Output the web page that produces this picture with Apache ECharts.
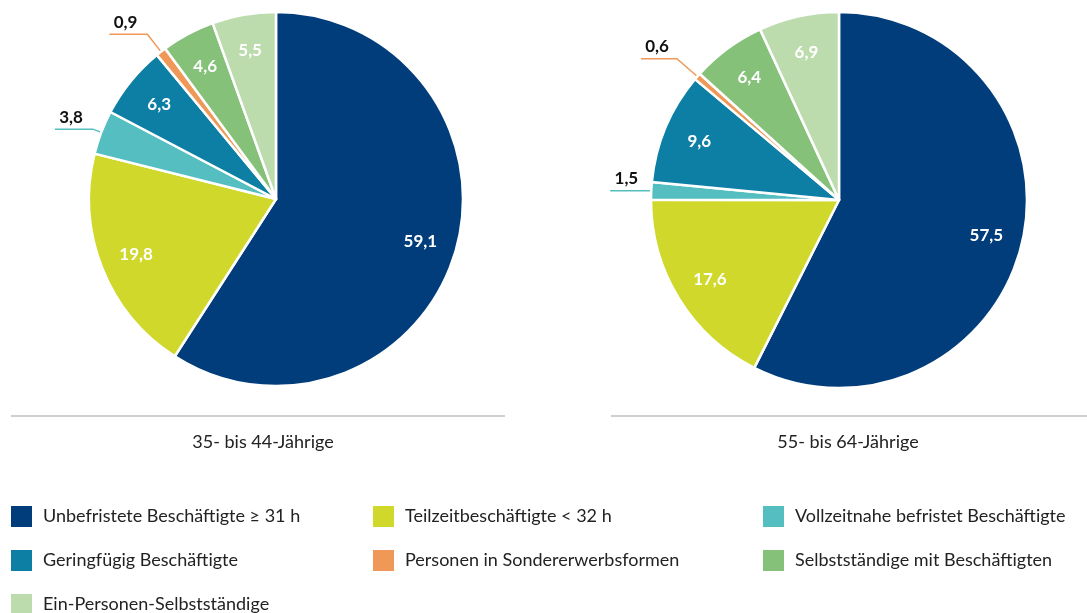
<!DOCTYPE html>
<html>
<head>
<meta charset="utf-8">
<script src="https://cdn.jsdelivr.net/npm/echarts@6/dist/echarts.min.js"></script>
<style>
  html, body { margin: 0; padding: 0; background: #fff; }
  #main { width: 1087px; height: 613px; }
</style>
</head>
<body>
<div id="main"></div>
<script>
// Kategorien und Werte (Anteile in %)
var categories = [
  'Unbefristete Beschäftigte ≥ 31 h',
  'Teilzeitbeschäftigte < 32 h',
  'Vollzeitnahe befristet Beschäftigte',
  'Geringfügig Beschäftigte',
  'Personen in Sondererwerbsformen',
  'Selbstständige mit Beschäftigten',
  'Ein-Personen-Selbstständige'
];
var groups = ['35- bis 44-Jährige', '55- bis 64-Jährige'];
var values35 = [59.1, 19.8, 3.8, 6.3, 0.9, 4.6, 5.5];
var values55 = [57.5, 17.6, 1.5, 9.6, 0.6, 6.4, 6.9];
var colors = ['#023d7b', '#cfd82b', '#55bec0', '#0d7fa5', '#ef9858', '#86c17a', '#bddcae'];

var font = 'Lato';
function fmt(v) { return v.toFixed(1).replace('.', ','); }

// Labelführung für kleine Segmente (außen): [length, length2]
var outside35 = { 2: [9, 38], 4: [22, 38] };
var outside55 = { 2: [3, 38], 4: [27, 36] };

function pieData(vals, outside) {
  return vals.map(function (v, i) {
    var d = { name: categories[i], value: v, itemStyle: { color: colors[i] } };
    if (outside[i]) {
      d.label = { show: true };
      d.labelLine = { show: true, length: outside[i][0], length2: outside[i][1], lineStyle: { color: colors[i], width: 1.5 } };
    }
    return d;
  });
}

function ringData(vals, outside) {
  return vals.map(function (v, i) {
    return { name: categories[i], value: v, label: { show: !outside[i] } };
  });
}

function makeSeries(vals, outside, center, r) {
  return [{
    type: 'pie',
    center: center,
    radius: [0, r],
    startAngle: 90,
    clockwise: true,
    avoidLabelOverlap: false,
    itemStyle: { borderColor: '#fff', borderWidth: 2.5 },
    label: {
      show: false,
      position: 'outside',
      // zweite leere Zeile schiebt den Text über die Linie
      formatter: function (p) { return '{a|' + fmt(p.value) + '}\n{b|}'; },
      rich: {
        a: { color: '#111', fontFamily: font, fontWeight: 'bold', fontSize: 17, lineHeight: 18 },
        b: { lineHeight: 24 }
      },
      distanceToLabelLine: -28
    },
    labelLine: { show: false, smooth: false },
    emphasis: { disabled: true },
    data: pieData(vals, outside)
  }, {
    type: 'pie',
    center: center,
    radius: [Math.round(r * 0.58), r],
    startAngle: 90,
    clockwise: true,
    silent: true,
    avoidLabelOverlap: false,
    itemStyle: { color: 'rgba(0,0,0,0)', borderWidth: 0 },
    label: {
      position: 'inside',
      formatter: function (p) { return fmt(p.value); },
      color: '#fff',
      fontFamily: font,
      fontWeight: 'bold',
      fontSize: 17
    },
    labelLine: { show: false },
    emphasis: { disabled: true },
    data: ringData(vals, outside)
  }];
}

var myChart = echarts.init(document.getElementById('main'));

var legendBase = {
  orient: 'vertical',
  top: 504,
  height: 120,
  padding: 0,
  itemWidth: 23,
  itemHeight: 23,
  itemGap: 19,
  icon: 'rect',
  selectedMode: false,
  textStyle: { fontFamily: font, fontSize: 18, color: '#222', padding: [0, 0, 0, 5] }
};

var option = {
  animation: false,
  title: [
    { text: groups[0], left: 258, top: 428, textAlign: 'center', textStyle: { fontFamily: font, fontSize: 18, fontWeight: 'normal', color: '#222' } },
    { text: groups[1], left: 843, top: 428, textAlign: 'center', textStyle: { fontFamily: font, fontSize: 18, fontWeight: 'normal', color: '#222' } }
  ],
  legend: [
    Object.assign({}, legendBase, { left: 9, data: [categories[0], categories[3], categories[6]] }),
    Object.assign({}, legendBase, { left: 371, data: [categories[1], categories[4]] }),
    Object.assign({}, legendBase, { left: 761, data: [categories[2], categories[5]] })
  ],
  graphic: [
    { type: 'line', shape: { x1: 11, y1: 416, x2: 505, y2: 416 }, style: { stroke: '#cfcfcf', lineWidth: 2 } },
    { type: 'line', shape: { x1: 611, y1: 416, x2: 1087, y2: 416 }, style: { stroke: '#cfcfcf', lineWidth: 2 } }
  ],
  series: makeSeries(values35, outside35, [276, 199], 187)
    .concat(makeSeries(values55, outside55, [839, 200], 188))
};

myChart.setOption(option);
</script>
</body>
</html>
